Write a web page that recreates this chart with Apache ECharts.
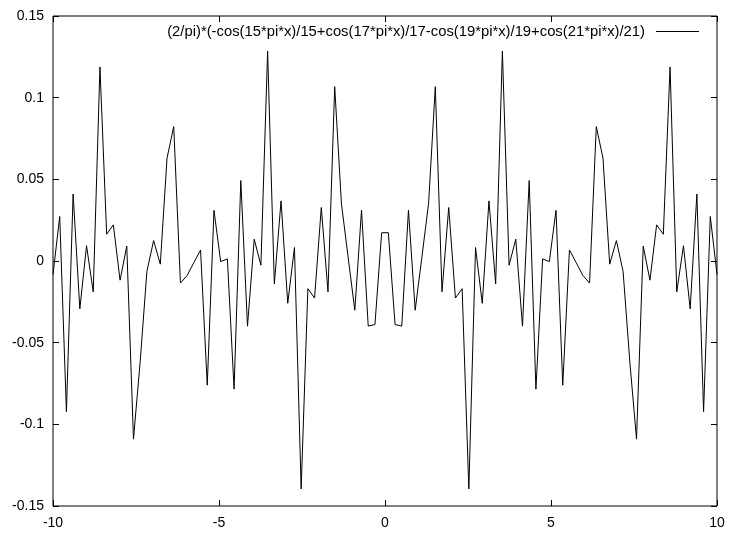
<!DOCTYPE html>
<html>
<head>
<meta charset="utf-8">
<script src="https://cdn.jsdelivr.net/npm/echarts@6/dist/echarts.min.js"></script>
<style>
  html, body { margin: 0; padding: 0; background: #fff; }
  #chart { width: 731px; height: 536px; }
</style>
</head>
<body>
<div id="chart"></div>
<script>
// Sampled curve: 100 samples over [-10, 10]
const seriesName = '(2/pi)*(-cos(15*pi*x)/15+cos(17*pi*x)/17-cos(19*pi*x)/19+cos(21*pi*x)/21)';

const xValues = [
  -10.0000, -9.7980, -9.5960, -9.3939, -9.1919, -8.9899, -8.7879, -8.5859, -8.3838, -8.1818,
  -7.9798, -7.7778, -7.5758, -7.3737, -7.1717, -6.9697, -6.7677, -6.5657, -6.3636, -6.1616,
  -5.9596, -5.7576, -5.5556, -5.3535, -5.1515, -4.9495, -4.7475, -4.5455, -4.3434, -4.1414,
  -3.9394, -3.7374, -3.5354, -3.3333, -3.1313, -2.9293, -2.7273, -2.5253, -2.3232, -2.1212,
  -1.9192, -1.7172, -1.5152, -1.3131, -1.1111, -0.9091, -0.7071, -0.5051, -0.3030, -0.1010,
   0.1010,  0.3030,  0.5051,  0.7071,  0.9091,  1.1111,  1.3131,  1.5152,  1.7172,  1.9192,
   2.1212,  2.3232,  2.5253,  2.7273,  2.9293,  3.1313,  3.3333,  3.5354,  3.7374,  3.9394,
   4.1414,  4.3434,  4.5455,  4.7475,  4.9495,  5.1515,  5.3535,  5.5556,  5.7576,  5.9596,
   6.1616,  6.3636,  6.5657,  6.7677,  6.9697,  7.1717,  7.3737,  7.5758,  7.7778,  7.9798,
   8.1818,  8.3838,  8.5859,  8.7879,  8.9899,  9.1919,  9.3939,  9.5960,  9.7980, 10.0000
];

const yValues = [
  -0.00818,  0.02724, -0.09221,  0.04100, -0.02929,  0.00936, -0.01891,  0.11879,  0.01638,  0.02213,
  -0.01174,  0.00908, -0.10906, -0.06153, -0.00641,  0.01252, -0.00193,  0.06299,  0.08229, -0.01351,
  -0.00884, -0.00099,  0.00675, -0.07603,  0.03102, -0.00037,  0.00128, -0.07846,  0.04927, -0.03990,
   0.01337, -0.00259,  0.12852, -0.01410,  0.03681, -0.02590,  0.00824, -0.13955, -0.01695, -0.02268,
   0.03276, -0.01885,  0.10674,  0.03536,  0.00236, -0.03011,  0.03117, -0.03985, -0.03890,  0.01731,
   0.01731, -0.03890, -0.03985,  0.03117, -0.03011,  0.00236,  0.03536,  0.10674, -0.01885,  0.03276,
  -0.02268, -0.01695, -0.13955,  0.00824, -0.02590,  0.03681, -0.01410,  0.12852, -0.00259,  0.01337,
  -0.03990,  0.04927, -0.07846,  0.00128, -0.00037,  0.03102, -0.07603,  0.00675, -0.00099, -0.00884,
  -0.01351,  0.08229,  0.06299, -0.00193,  0.01252, -0.00641, -0.06153, -0.10906,  0.00908, -0.01174,
   0.02213,  0.01638,  0.11879, -0.01891,  0.00936, -0.02929,  0.04100, -0.09221,  0.02724, -0.00818
];

const xRange = { min: -10, max: 10, step: 5 };
const yRange = { min: -0.15, max: 0.15, step: 0.05 };

const points = xValues.map((x, i) => [x, yValues[i]]);

const font = 'Liberation Sans, Arial, Helvetica, sans-serif';
const ink = '#000';
const fontSize = 14;

// Inward ticks on all four sides of the frame; labels only on bottom/left
function axisBase(showLabels, margin) {
  return {
    axisLine: { show: false, onZero: false },
    axisTick: { show: true, inside: true, length: 6, lineStyle: { color: ink, width: 1 } },
    axisLabel: { show: showLabels, color: ink, fontFamily: font, fontSize: fontSize, margin: margin || 8 },
    splitLine: { show: false }
  };
}

// Key in the upper-right corner: title text followed by a line sample
const keyTextRight = 645;
const keyY = 32;
const keySample = { x1: 656, x2: 699 };

const chart = echarts.init(document.getElementById('chart'), null, { renderer: 'canvas' });
chart.setOption({
  animation: false,
  backgroundColor: '#fff',
  grid: {
    left: 53, right: 14, top: 16, bottom: 30,
    show: true, borderColor: ink, borderWidth: 1, backgroundColor: 'transparent'
  },
  legend: { show: false },
  graphic: [
    {
      type: 'text',
      x: keyTextRight, y: keyY,
      style: {
        text: seriesName, fill: ink, font: '14.8px ' + font,
        textAlign: 'right', textVerticalAlign: 'middle'
      },
      z: 10
    },
    {
      type: 'line',
      shape: { x1: keySample.x1, y1: keyY - 0.5, x2: keySample.x2, y2: keyY - 0.5 },
      style: { stroke: ink, lineWidth: 1 },
      z: 10
    }
  ],
  xAxis: [
    Object.assign(axisBase(true, 10), {
      type: 'value', position: 'bottom',
      min: xRange.min, max: xRange.max, interval: xRange.step
    }),
    Object.assign(axisBase(false), {
      type: 'value', position: 'top',
      min: xRange.min, max: xRange.max, interval: xRange.step
    })
  ],
  yAxis: [
    Object.assign(axisBase(true, 9), {
      type: 'value', position: 'left',
      min: yRange.min, max: yRange.max, interval: yRange.step
    }),
    Object.assign(axisBase(false), {
      type: 'value', position: 'right',
      min: yRange.min, max: yRange.max, interval: yRange.step
    })
  ],
  series: [{
    name: seriesName,
    type: 'line',
    data: points,
    symbol: 'none',
    lineStyle: { color: ink, width: 1 },
    itemStyle: { color: ink }
  }]
});
</script>
</body>
</html>
